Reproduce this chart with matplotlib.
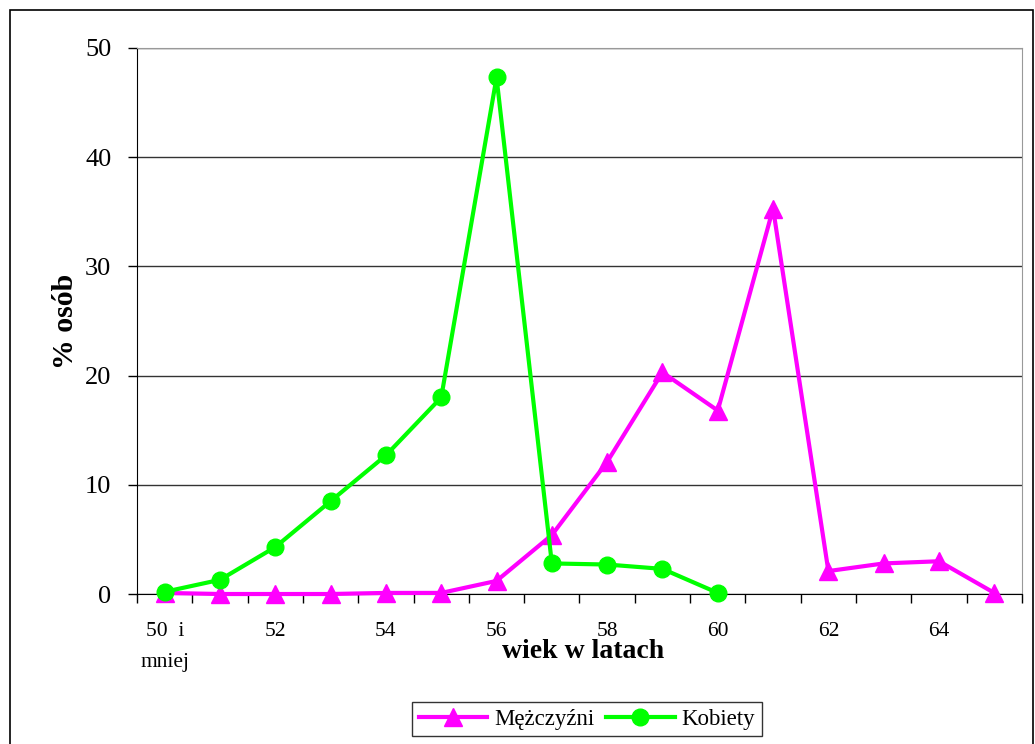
import matplotlib.pyplot as plt
from matplotlib.patches import Rectangle

# dane
wiek = ["50  i\nmniej", "51", "52", "53", "54", "55", "56", "57", "58", "59",
        "60", "61", "62", "63", "64", "65"]
mezczyzni = [0.1, 0.0, 0.0, 0.0, 0.1, 0.1, 1.2, 5.4, 12.1, 20.3, 16.8, 35.3,
             2.1, 2.8, 3.0, 0.1]
kobiety = [0.2, 1.3, 4.3, 8.5, 12.7, 18.0, 47.3, 2.8, 2.7, 2.3, 0.1]

plt.rcParams['font.family'] = ['Liberation Serif', 'DejaVu Serif']

fig = plt.figure(figsize=(10.35, 7.44), dpi=100)
ax = fig.add_axes([0.1324, 0.2016, 0.8550, 0.7339])

x_m = list(range(len(mezczyzni)))
x_k = list(range(len(kobiety)))
ax.plot(x_m, mezczyzni, '^-', color='#FF00FF', lw=3, ms=13, label='Mężczyźni',
        zorder=3, clip_on=False)
ax.plot(x_k, kobiety, 'o-', color='#00FF00', lw=3, ms=12, label='Kobiety',
        zorder=4, clip_on=False)

ax.set_xlim(-0.5, len(wiek) - 0.5)
ax.set_ylim(0, 50)
ax.set_yticks(range(0, 51, 10))
ax.tick_params(axis='y', labelsize=19, direction='out', length=6.5, width=1,
               pad=12)
ax.yaxis.grid(True, color='#333333', lw=1)
ax.set_axisbelow(True)

# etykiety co drugą kategorię
lab_pos = [0, 2, 4, 6, 8, 10, 12, 14]
ax.set_xticks(lab_pos)
ax.set_xticklabels([wiek[i] for i in lab_pos], fontsize=15.5, linespacing=1.9)
ax.tick_params(axis='x', which='major', length=0, pad=20)
ax.set_xticks([i - 0.5 for i in range(len(wiek) + 1)], minor=True)
ax.tick_params(axis='x', which='minor', direction='out', length=6.5, width=1)

ax.spines['top'].set_color('#999999')
ax.spines['right'].set_color('#999999')
ax.spines['left'].set_color('black')
ax.spines['bottom'].set_color('black')

ax.set_ylabel('% osób', fontsize=21.5, fontweight='bold', labelpad=4)
fig.text(0.5634, 0.1237, 'wiek w latach', fontsize=20, fontweight='bold',
         ha='center', va='center')

leg = fig.legend(loc='center', bbox_to_anchor=(0.567, 0.0336), ncol=2,
                 fontsize=16.5, frameon=True, fancybox=False, handlelength=3,
                 columnspacing=0.5, handletextpad=0.3, borderpad=0.3)
leg.get_frame().set_edgecolor('black')
leg.get_frame().set_linewidth(1)

# ramka wykresu
fig.patches.append(Rectangle((0.0097, -0.1), 0.988, 1.0866,
                             transform=fig.transFigure, fill=False,
                             edgecolor='black', lw=1.2))

fig.savefig('out.png', dpi=100)
